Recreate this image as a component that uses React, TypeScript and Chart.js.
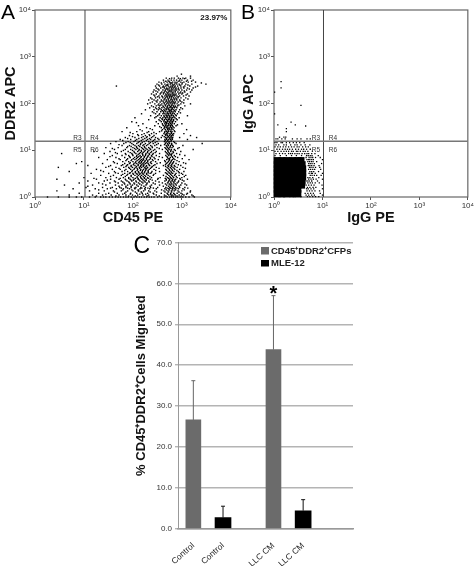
import React, { useEffect, useRef } from "react";
import { Chart, registerables } from "chart.js";
Chart.register(...registerables);

const FONT = "'Liberation Sans', Arial, sans-serif";
const decades = [1, 10, 100, 1000, 10000];
const supers = ["\u2070", "\u00b9", "\u00b2", "\u00b3", "\u2074"];
const gateX = 10.5;
const gateY = 15.6;

// Panel A events, read row by row: [DDR2 APC, CD45 PE values...]
const panelARows: number[][] = [
  [424, 980],
  [385, 800, 1500],
  [349, 480, 620, 700, 850, 1050, 1200, 1500],
  [316, 420, 520, 610, 690, 780, 900, 1000, 1300, 1700],
  [287, 340, 430, 500, 560, 650, 720, 800, 950, 1100, 1350, 1900],
  [260, 310, 390, 450, 520, 580, 640, 710, 790, 880, 1000, 1200, 1600, 3100],
  [236, 46, 290, 350, 420, 470, 530, 600, 650, 730, 820, 950, 1150, 1450, 2100],
  [214, 300, 370, 440, 490, 550, 610, 680, 760, 850, 960, 1100, 1300, 1700],
  [194, 270, 340, 410, 460, 520, 570, 630, 690, 780, 880, 1000, 1250, 1600],
  [176, 260, 320, 390, 440, 490, 540, 600, 660, 730, 830, 950, 1150, 1500],
  [160, 240, 300, 360, 420, 470, 520, 570, 630, 690, 760, 860, 1000, 1300],
  [145, 280, 340, 390, 450, 500, 550, 600, 650, 710, 790, 900, 1080, 1400],
  [132, 230, 290, 350, 410, 460, 510, 560, 620, 680, 750, 830, 960, 1200],
  [119, 210, 270, 320, 380, 430, 480, 530, 590, 640, 710, 790, 900, 1100],
  [108, 250, 310, 360, 420, 470, 520, 570, 620, 680, 740, 840, 1000],
  [98.2, 200, 280, 340, 390, 440, 490, 540, 600, 650, 710, 800, 950, 1500],
  [89, 240, 300, 350, 410, 460, 510, 560, 610, 670, 730, 820, 1150],
  [80.8, 220, 290, 340, 390, 440, 500, 550, 600, 640, 700, 790, 950],
  [73.3, 180, 270, 330, 380, 430, 480, 530, 570, 620, 680, 760, 900],
  [66.5, 250, 310, 370, 420, 470, 520, 560, 610, 660, 730, 860],
  [60.3, 150, 290, 350, 410, 450, 500, 540, 590, 640, 700, 810],
  [54.7, 230, 320, 380, 430, 480, 520, 570, 620, 670, 770, 1300],
  [49.6, 110, 280, 360, 410, 460, 500, 550, 600, 650, 720, 880],
  [45, 210, 340, 400, 440, 490, 530, 570, 620, 680, 800],
  [40.8, 95, 300, 380, 430, 470, 510, 550, 600, 650, 740],
  [37, 160, 330, 400, 450, 490, 530, 580, 630, 700, 1000],
  [33.5, 130, 280, 420, 460, 500, 540, 590, 640, 760],
  [30.4, 75, 190, 380, 440, 480, 520, 570, 620, 690],
  [27.6, 140, 250, 400, 460, 510, 550, 600, 660, 1250],
  [25, 60, 120, 210, 350, 450, 490, 530, 580, 630, 720],
  [22.7, 100, 170, 240, 300, 430, 480, 520, 570, 620, 680, 1100],
  [20.6, 85, 130, 180, 220, 270, 400, 470, 510, 560, 610, 660, 1500],
  [18.7, 70, 110, 150, 190, 240, 290, 380, 460, 500, 550, 600, 650, 900, 2000],
  [17, 55, 90, 120, 160, 200, 230, 280, 340, 450, 490, 540, 590, 640, 1300],
  [15.3, 45, 80, 105, 135, 170, 210, 250, 310, 440, 500, 550, 600, 680],
  [13.9, 35, 65, 95, 120, 145, 180, 215, 260, 330, 460, 510, 560, 620, 760, 2600],
  [12.6, 60, 85, 110, 130, 160, 190, 230, 280, 370, 480, 530, 590, 650, 1050],
  [11.4, 28, 50, 75, 100, 120, 150, 175, 210, 250, 310, 450, 510, 570, 630, 880],
  [10.4, 42, 70, 90, 115, 135, 165, 195, 230, 280, 400, 490, 550, 610, 700, 1700],
  [9.4, 16, 34, 58, 80, 105, 125, 150, 170, 200, 240, 300, 460, 520, 590, 660, 950],
  [8.5, 3.5, 26, 48, 70, 95, 115, 135, 155, 185, 215, 260, 350, 500, 560, 630, 780],
  [7.7, 38, 60, 82, 100, 120, 140, 160, 180, 205, 240, 300, 470, 540, 610, 700, 1150],
  [7, 20, 45, 68, 88, 108, 125, 145, 170, 195, 225, 270, 400, 510, 580, 650, 820],
  [6.3, 30, 55, 75, 95, 110, 130, 150, 165, 190, 215, 250, 330, 490, 560, 640, 720, 1400],
  [5.7, 9, 40, 62, 82, 100, 115, 135, 150, 175, 200, 235, 290, 460, 530, 600, 680, 880],
  [5.2, 7, 24, 48, 68, 85, 105, 120, 140, 160, 180, 205, 240, 310, 480, 560, 640, 760, 1200],
  [4.7, 12, 35, 58, 75, 92, 110, 128, 145, 165, 190, 220, 265, 420, 520, 600, 700, 950],
  [4.3, 3, 28, 45, 65, 82, 98, 115, 135, 150, 175, 200, 240, 300, 500, 580, 660, 800, 1050],
  [3.9, 18, 38, 55, 72, 90, 105, 125, 145, 165, 185, 215, 270, 470, 550, 630, 720, 900],
  [3.5, 5, 25, 42, 60, 78, 95, 112, 130, 155, 175, 205, 245, 350, 520, 600, 690, 850, 1100],
  [3.2, 14, 32, 50, 68, 85, 100, 120, 140, 160, 190, 225, 290, 490, 570, 650, 760, 980],
  [2.9, 22, 40, 58, 75, 92, 110, 130, 150, 175, 205, 260, 420, 540, 620, 710, 880, 1200],
  [2.6, 10, 28, 46, 64, 82, 100, 122, 145, 170, 200, 240, 360, 510, 590, 680, 800, 1000],
  [2.4, 2.8, 18, 35, 52, 70, 88, 105, 128, 155, 185, 225, 320, 480, 560, 650, 750, 930, 1300],
  [2.2, 12, 26, 42, 58, 76, 95, 115, 140, 170, 210, 290, 450, 540, 630, 720, 860, 1100],
  [2, 8, 20, 34, 50, 66, 85, 105, 130, 160, 195, 260, 400, 510, 600, 690, 800, 1000],
  [1.8, 4, 15, 28, 44, 60, 78, 98, 120, 150, 185, 240, 350, 490, 580, 670, 770, 950, 1250],
  [1.6, 11, 24, 38, 54, 72, 92, 115, 145, 180, 230, 320, 470, 560, 650, 740, 900, 1150],
  [1.5, 6, 17, 30, 46, 64, 85, 110, 140, 175, 220, 300, 450, 540, 630, 720, 850, 1050],
  [1.35, 2.8, 13, 26, 40, 58, 78, 100, 130, 165, 210, 280, 430, 520, 610, 700, 830, 1000, 1500],
  [1.2, 8, 20, 32, 48, 68, 90, 120, 155, 200, 260, 380, 500, 590, 680, 800, 960, 1300],
  [1.1, 5, 15, 24, 36, 52, 72, 98, 125, 160, 210, 300, 440, 540, 630, 730, 880, 1100, 1600],
  [1, 1.8, 3, 5, 7, 9, 13, 17, 22, 25, 28, 33, 38, 44, 50, 56, 64, 72, 80, 92, 105, 120, 135, 150, 170, 190, 215, 240, 270, 320, 380, 440, 500, 560, 620, 680, 750, 830, 920, 1050, 1200, 1400, 1800],
];

// Panel A, the events between those rows, where the cloud is densest
const panelAFillRows: number[][] = [
  [340, 560, 930, 1130],
  [300, 470, 545, 870, 1240, 1580],
  [275, 380, 585, 615, 760, 1020, 2500],
  [248, 335, 505, 495, 675, 905, 1330],
  [225, 405, 432, 575, 710, 640, 1080, 1900],
  [204, 325, 515, 478, 625, 845, 745, 1420],
  [185, 295, 455, 602, 555, 735, 1120],
  [168, 372, 425, 648, 512, 915, 1040],
  [152, 268, 535, 478, 588, 725, 665, 1220],
  [139, 318, 402, 612, 562, 845, 495],
  [125, 245, 445, 528, 695, 605, 770, 1330],
  [113, 298, 392, 485, 645, 548, 925],
  [103, 225, 435, 578, 515, 715, 660, 1090],
  [93, 328, 462, 372, 628, 545, 868],
  [85, 262, 418, 592, 502, 748, 685],
  [77, 305, 475, 355, 635, 525, 1030],
  [70, 398, 562, 448, 712, 598],
  [63, 268, 505, 425, 582, 658, 935],
  [57, 342, 475, 618, 532, 745],
  [52, 298, 438, 565, 498, 688],
  [47, 392, 548, 465, 612, 765],
  [43, 358, 512, 432, 595, 672],
  [39, 118, 458, 568, 488, 635],
  [35, 405, 542, 472, 612, 812],
  [32, 352, 498, 585, 448, 658],
  [29, 225, 432, 548, 515, 625],
  [26, 155, 475, 385, 598, 532, 702],
  [24, 88, 195, 268, 508, 442, 612],
  [21.6, 125, 215, 152, 458, 575, 495, 648],
  [19.6, 98, 162, 255, 195, 528, 435, 602],
  [17.8, 78, 132, 218, 175, 322, 485, 568, 632],
  [16.2, 112, 62, 188, 148, 262, 515, 458, 605],
  [14.6, 88, 155, 128, 228, 72, 285, 475, 545, 712],
  [13.2, 52, 142, 102, 202, 168, 305, 522, 442, 618],
  [12, 78, 118, 172, 138, 245, 92, 495, 578, 668],
  [10.9, 38, 108, 158, 125, 222, 185, 345, 535, 468, 825],
  [9.9, 64, 132, 98, 178, 148, 262, 212, 515, 598, 735],
  [8.9, 44, 108, 142, 88, 198, 162, 232, 285, 542, 478, 672],
  [8.1, 72, 128, 158, 98, 218, 182, 252, 520, 612, 575, 905],
  [7.3, 34, 118, 85, 148, 202, 132, 172, 245, 345, 495, 632, 738],
  [6.6, 52, 102, 138, 78, 162, 118, 228, 188, 282, 555, 525, 682, 1020],
  [6, 72, 122, 92, 158, 142, 202, 178, 258, 445, 612, 548, 795],
  [5.4, 42, 112, 88, 148, 132, 192, 168, 228, 362, 505, 662, 585, 1080],
  [4.9, 62, 128, 102, 168, 78, 212, 152, 282, 462, 622, 545, 845],
  [4.5, 32, 118, 92, 142, 72, 185, 162, 248, 535, 465, 725, 618],
  [4.1, 52, 108, 138, 85, 178, 122, 228, 192, 342, 605, 525, 695, 1180],
  [3.7, 22, 68, 122, 98, 158, 142, 205, 182, 292, 485, 648, 565, 792],
  [3.3, 44, 112, 88, 152, 132, 172, 238, 205, 545, 615, 462, 882],
  [3.05, 62, 102, 78, 138, 122, 192, 162, 268, 505, 732, 592, 1040],
  [2.75, 35, 92, 122, 70, 162, 142, 222, 182, 475, 652, 568, 768, 1120],
  [2.5, 16, 55, 112, 82, 148, 128, 205, 172, 328, 535, 612, 458, 905],
  [2.3, 30, 72, 102, 135, 92, 188, 162, 248, 562, 482, 705, 638, 1020],
  [2.1, 44, 82, 118, 62, 152, 215, 178, 342, 528, 675, 588, 845],
  [1.9, 24, 68, 108, 138, 88, 192, 285, 552, 462, 622, 735, 1160],
  [1.7, 12, 52, 92, 128, 72, 168, 225, 418, 612, 535, 692, 882],
  [1.55, 35, 78, 108, 58, 152, 262, 202, 502, 585, 662, 792, 1320],
  [1.42, 20, 62, 95, 128, 178, 385, 482, 648, 555, 745, 1120],
  [1.28, 42, 72, 112, 148, 225, 305, 535, 618, 452, 872, 1480],
  [1.15, 28, 62, 88, 138, 182, 268, 512, 590, 702, 1020, 1250],
  [1.05, 18, 45, 82, 112, 195, 345, 472, 605, 662, 795, 980, 1700],
];

// Panel B events outside the solid core: [IgG APC, IgG PE values...]
const panelBRows: number[][] = [
  [295, 1.4], [216, 1.4], [175, 1.03], [91, 3.6], [60, 1.03], [40, 2.25], [35, 1.2, 2.75], [33, 4.5],
  [29, 1.8], [25, 1.8], [19, 1.3, 1.6, 1.75], [17.5, 1.1, 1.2, 1.45, 1.7, 2.4, 3, 3.6, 4.8, 5.6],
  [14.5, 1.05, 1.15, 1.4, 1.5, 1.8, 2.1, 2.5, 2.9, 3.4, 4.2],
  [13, 1.1, 1.25, 1.6, 1.8, 2.2, 2.7, 3, 3.6, 4.4, 5.5],
  [11.8, 1.05, 1.2, 1.35, 1.55, 1.75, 2, 2.3, 2.6, 3, 3.3, 3.9, 4.5, 5.1],
  [10.5, 1.15, 1.3, 1.5, 1.7, 1.9, 2.1, 2.4, 2.8, 3.2, 3.7, 4.1, 4.7, 5.6],
  [9.5, 1.05, 1.2, 1.4, 1.6, 1.8, 2, 2.3, 2.5, 2.9, 3.1, 3.5, 4, 4.4, 5, 6.2],
  [8.5, 1.1, 1.3, 1.5, 1.7, 2, 2.2, 2.4, 2.7, 3, 3.3, 3.8, 4.3, 4.8, 5.2, 6, 7],
  [7.7, 1.05, 1.35, 1.8, 2.3, 2.9, 3.7, 4.7, 5.1, 5.6, 6.1, 8.2],
  [7, 4.6, 5.3, 5.8, 6.3, 7.2, 9],
  [6.3, 4.8, 5.2, 5.5, 6, 6.5, 10],
  [5.7, 5, 5.4, 5.9, 6.4, 7.6],
  [5.2, 5.2, 5.6, 6.1, 6.8, 9.6],
  [4.7, 5.1, 5.5, 6, 6.7, 8.5],
  [4.3, 5.4, 5.8, 6.4, 7.2, 8.8],
  [3.9, 5.2, 5.7, 6.3, 6.9, 9.2],
  [3.5, 5.5, 6, 6.6, 8.3],
  [3.2, 5.3, 5.9, 6.2, 7.1, 10],
  [2.9, 5.6, 6.1, 6.8, 7.6, 9.4],
  [2.6, 5, 5.5, 6.3, 8.4],
  [2.4, 5.2, 5.8, 6.5, 7.4, 10],
  [2.2, 4.8, 5.3, 6, 7.9],
  [2, 5, 5.6, 6.2, 7.1, 8.6],
  [1.8, 4.6, 5.2, 5.9, 6.7, 9.8],
  [1.6, 4.9, 5.5, 6.4, 7.3],
  [1.5, 4.7, 5.1, 5.8, 6.6, 10],
  [1.35, 4.8, 5.4, 6.1, 7, 8.7],
  [1.2, 4.4, 5, 5.7, 6.5, 9],
  [1.1, 4.6, 5.2, 6, 6.8, 10],
  [1.02, 1.6, 2.5, 3.6, 4.9, 5.5, 6.3, 7.2, 8.4],
];

// Panel B solid core of the population: [IgG APC, IgG PE values...]
const panelBCoreRows: number[][] = [
  [6, 1.17, 1.45, 1.85, 2.4, 3.1, 3.6],
  [4.9, 1.17, 1.45, 1.85, 2.4, 3.1, 3.8],
  [4, 1.17, 1.45, 1.85, 2.4, 3.1, 3.9],
  [3.3, 1.17, 1.45, 1.85, 2.4, 3.1, 3.9],
  [2.7, 1.17, 1.45, 1.85, 2.4, 3.1, 3.9],
  [2.2, 1.17, 1.45, 1.85, 2.4, 3.1, 3.8],
  [1.8, 1.17, 1.45, 1.85, 2.4, 3.1, 3.7],
  [1.47, 1.17, 1.45, 1.85, 2.4, 3.1],
  [1.18, 1.17, 1.45, 1.85, 2.4, 3.1],
];

// Panel C
const migrationLabels = ["Control", "Control", "LLC CM", "LLC CM"];
const migrationPositions = [1, 2, 3.7, 4.7];
const cfpPositions = [1, 3.7];
const cfpValues = [26.6, 43.8];
const cfpErrorTops = [36.2, 57];
const mlePositions = [2, 4.7];
const mleValues = [2.7, 4.4];
const mleErrorTops = [5.5, 7.1];
const percentTicks = [0, 10, 20, 30, 40, 50, 60, 70];

const rowsToPoints = (rows: number[][]) =>
  rows.flatMap(([y, ...xs]) => xs.map((x) => ({ x, y })));

function flowConfig(opts: any) {
  const logTicks = (scale: any) => {
    scale.ticks = decades.map((value) => ({ value }));
  };
  const fmt = (v: any) => `10${supers[Math.round(Math.log10(Number(v)))]}`;
  const axis = (title: string, size: number, afterFit: any, titlePad: any) => ({
    type: "logarithmic",
    min: 1,
    max: 10000,
    afterBuildTicks: logTicks,
    afterFit,
    grid: { display: true, drawOnChartArea: false, drawTicks: true, tickLength: 3, color: "#555", lineWidth: 1 },
    border: { display: false },
    ticks: {
      callback: fmt,
      autoSkip: false,
      maxRotation: 0,
      minRotation: 0,
      padding: 1,
      color: "#333",
      font: { family: FONT, size: 8 },
    },
    title: { display: true, text: title, color: "#111", padding: titlePad, font: { family: FONT, size, weight: "bold" } },
  });
  const overlay = {
    id: "flowOverlay",
    beforeDatasetsDraw(chart: any) {
      const { ctx, chartArea: a, scales } = chart;
      const px = scales.x.getPixelForValue(gateX);
      const py = scales.y.getPixelForValue(gateY);
      ctx.save();
      ctx.strokeStyle = "#666";
      ctx.lineWidth = 1.2;
      ctx.strokeRect(a.left, a.top, a.right - a.left, a.bottom - a.top);
      ctx.strokeStyle = "#444";
      ctx.lineWidth = 1;
      ctx.beginPath();
      ctx.moveTo(px, a.top);
      ctx.lineTo(px, a.bottom);
      ctx.stroke();
      ctx.strokeStyle = "#777";
      ctx.lineWidth = 1.5;
      ctx.beginPath();
      ctx.moveTo(a.left, py);
      ctx.lineTo(a.right, py);
      ctx.stroke();
      ctx.restore();
    },
    afterDatasetsDraw(chart: any) {
      const { ctx, chartArea: a, scales } = chart;
      const px = scales.x.getPixelForValue(gateX);
      const py = scales.y.getPixelForValue(gateY);
      ctx.save();
      ctx.fillStyle = "#333";
      ctx.font = `6.5px ${FONT}`;
      ctx.textAlign = "center";
      ctx.textBaseline = "middle";
      ctx.fillText("R3", px - 7.5, py - 3);
      ctx.fillText("R4", px + 9.5, py - 3);
      ctx.fillText("R5", px - 7.5, py + 9);
      ctx.fillText("R6", px + 9.5, py + 9);
      if (opts.percent) {
        ctx.fillStyle = "#111";
        ctx.font = `bold 8px ${FONT}`;
        ctx.fillText(opts.percent, a.right - 17, a.top + 7.5);
      }
      ctx.fillStyle = "#000";
      ctx.font = `21px ${FONT}`;
      ctx.textAlign = "left";
      ctx.fillText(opts.letter, opts.letterX, 13);
      ctx.restore();
    },
  };
  return {
    type: "scatter",
    data: { datasets: opts.datasets },
    plugins: [overlay],
    options: {
      animation: false,
      responsive: false,
      layout: { autoPadding: false, padding: { top: 10, right: opts.right, bottom: 0, left: 0 } },
      plugins: { legend: { display: false }, tooltip: { enabled: false } },
      scales: {
        x: axis(opts.xTitle, 14.5, (s: any) => { s.height = 31; }, { top: 1, bottom: 1 }),
        y: axis(opts.yTitle, 14.5, (s: any) => { s.width = opts.yWidth; }, { top: 2, bottom: 0 }),
      },
    },
  };
}

function points(data: any[], radius: number) {
  return {
    data,
    pointStyle: "rect",
    pointRadius: radius,
    pointBorderWidth: 0,
    pointBackgroundColor: "#000",
    showLine: false,
    clip: false,
  };
}

function barConfig() {
  const errors = {
    id: "errorsAndNotes",
    afterDatasetsDraw(chart: any) {
      const { ctx, scales } = chart;
      const tops = [cfpErrorTops, mleErrorTops];
      const colors = ["#666", "#111"];
      ctx.save();
      tops.forEach((arr, d) => {
        chart.getDatasetMeta(d).data.forEach((bar: any, i: number) => {
          const y = scales.y.getPixelForValue(arr[i]);
          ctx.strokeStyle = colors[d];
          ctx.lineWidth = 1;
          ctx.beginPath();
          ctx.moveTo(bar.x, bar.y);
          ctx.lineTo(bar.x, y);
          ctx.moveTo(bar.x - 2, y);
          ctx.lineTo(bar.x + 2, y);
          ctx.stroke();
        });
      });
      const star = chart.getDatasetMeta(0).data[1];
      ctx.fillStyle = "#000";
      ctx.font = `bold 20px ${FONT}`;
      ctx.textAlign = "center";
      ctx.textBaseline = "middle";
      ctx.fillText("*", star.x, scales.y.getPixelForValue(57) - 1);

      ctx.font = `bold 9.5px ${FONT}`;
      ctx.textAlign = "left";
      ctx.fillStyle = "#6b6b6b";
      ctx.fillRect(161, 17, 8, 7.5);
      ctx.fillStyle = "#000";
      ctx.fillRect(161, 30, 8, 6.5);
      ctx.fillStyle = "#222";
      ctx.fillText("CD45\u207aDDR2\u207aCFPs", 171, 21);
      ctx.fillText("MLE-12", 171, 33.5);

      ctx.fillStyle = "#000";
      ctx.font = `23px ${FONT}`;
      ctx.fillText("C", 33.5, 16.5);
      ctx.restore();
    },
  };
  return {
    type: "bar",
    data: {
      datasets: [
        {
          label: "CD45\u207aDDR2\u207aCFPs",
          data: cfpPositions.map((x, i) => ({ x, y: cfpValues[i] })),
          backgroundColor: "#6b6b6b",
          barThickness: 15,
        },
        {
          label: "MLE-12",
          data: mlePositions.map((x, i) => ({ x, y: mleValues[i] })),
          backgroundColor: "#000",
          barThickness: 16,
        },
      ],
    },
    plugins: [errors],
    options: {
      animation: false,
      responsive: false,
      layout: { autoPadding: false, padding: { top: 12.5, right: 27, bottom: 0, left: 0 } },
      datasets: { bar: { grouped: false } },
      plugins: { legend: { display: false }, tooltip: { enabled: false } },
      scales: {
        x: {
          type: "linear",
          min: 0.483,
          max: 6.38,
          offset: false,
          afterFit: (s: any) => { s.height = 37.3; },
          afterBuildTicks: (s: any) => {
            s.ticks = migrationPositions.map((value) => ({ value }));
          },
          grid: { display: false },
          border: { display: true, color: "#999", width: 1.5 },
          ticks: {
            autoSkip: false,
            minRotation: 42,
            maxRotation: 42,
            padding: 4,
            color: "#222",
            font: { family: FONT, size: 8.5 },
            callback: (v: any) => migrationLabels[migrationPositions.indexOf(Number(v))] ?? "",
          },
        },
        y: {
          min: 0,
          max: 70,
          afterFit: (s: any) => { s.width = 78; },
          afterBuildTicks: (s: any) => {
            s.ticks = percentTicks.map((value) => ({ value }));
          },
          grid: { color: "#b4b4b4", lineWidth: 1.4, tickLength: 3 },
          border: { display: true, color: "#999", width: 1 },
          ticks: {
            padding: 3,
            color: "#333",
            font: { family: FONT, size: 8 },
            callback: (v: any) => Number(v).toFixed(1),
          },
          title: {
            display: true,
            text: "% CD45\u207aDDR2\u207aCells Migrated",
            color: "#111",
            padding: { top: 34, bottom: 0 },
            font: { family: FONT, size: 13, weight: "bold" },
          },
        },
      },
    },
  };
}

const panelStyle = (left: number, top: number): React.CSSProperties => ({
  position: "absolute",
  left,
  top,
  filter: "blur(0.35px)",
});

export default function App() {
  const a = useRef<HTMLCanvasElement>(null);
  const b = useRef<HTMLCanvasElement>(null);
  const c = useRef<HTMLCanvasElement>(null);
  useEffect(() => {
    const charts = [
      new Chart(a.current as any, flowConfig({
        datasets: [points(rowsToPoints(panelARows), 1), points(rowsToPoints(panelAFillRows), 1)],
        xTitle: "CD45 PE",
        yTitle: "DDR2 APC",
        right: 6,
        yWidth: 35,
        percent: "23.97%",
        letter: "A",
        letterX: 1,
      }) as any),
      new Chart(b.current as any, flowConfig({
        datasets: [points(rowsToPoints(panelBRows), 0.9), points(rowsToPoints(panelBCoreRows), 5)],
        xTitle: "IgG PE",
        yTitle: "IgG APC",
        right: 4,
        yWidth: 36,
        letter: "B",
        letterX: 3,
      }) as any),
      new Chart(c.current as any, barConfig() as any),
    ];
    return () => charts.forEach((ch) => ch.destroy());
  }, []);
  return (
    <div style={{ position: "absolute", left: 0, top: 0, width: 475, height: 566, overflow: "hidden", background: "#fff" }}>
      <canvas ref={a} width={238} height={228} style={panelStyle(0, 0)} />
      <canvas ref={b} width={237} height={228} style={panelStyle(238, 0)} />
      <canvas ref={c} width={280} height={336} style={panelStyle(100, 230)} />
    </div>
  );
}
